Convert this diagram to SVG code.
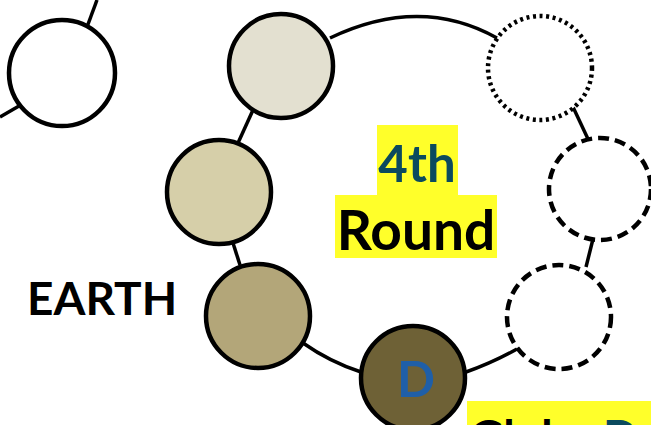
<svg xmlns="http://www.w3.org/2000/svg" width="651" height="425" viewBox="0 0 651 425">
<style>
.n{stroke:#000;stroke-width:4.5}
.dot{fill:#fff;stroke:#000;stroke-width:4.5;stroke-dasharray:3 3.6}
.dash{fill:#fff;stroke:#000;stroke-width:4.5;stroke-dasharray:11 6}
.c{fill:none;stroke:#000;stroke-width:3.5}
.t{font-family:Lato,"Liberation Sans",sans-serif;font-weight:700}
</style>
<rect width="651" height="425" fill="#fff"/>
<g id="connectors">
<line class="c" x1="97" y1="0" x2="87" y2="27"/>
<line class="c" x1="19" y1="106" x2="0" y2="117"/>
<path class="c" d="M330 38 Q420 -5 497 38"/>
<line class="c" x1="253" y1="110" x2="238" y2="143"/>
<line class="c" x1="233" y1="243" x2="240" y2="265"/>
<path class="c" d="M303 343 Q330 362 361 372"/>
<path class="c" d="M466 372 Q492 363 517 349"/>
<line class="c" x1="573" y1="107" x2="588" y2="139"/>
<line class="c" x1="593" y1="239" x2="586" y2="267"/>
</g>
<g id="node-earth-prev"><circle class="n" cx="62" cy="73" r="53" fill="#fff"/></g>
<g id="node-a"><circle class="n" cx="281" cy="66" r="52" fill="#e3e0d0"/></g>
<g id="node-b"><circle class="n" cx="219" cy="192" r="52" fill="#d6cfa9"/></g>
<g id="node-c"><circle class="n" cx="258" cy="316" r="52" fill="#b3a679"/></g>
<g id="node-d"><circle class="n" cx="413" cy="378" r="52" fill="#6e6136"/>
<text class="t" x="416" y="397" font-size="50" fill="#1f5fa8" text-anchor="middle">D</text></g>
<g id="node-e"><circle class="dash" cx="559" cy="317" r="52"/></g>
<g id="node-f"><circle class="dash" cx="600" cy="189" r="51"/></g>
<g id="node-g"><circle class="dot" cx="540" cy="68" r="52"/></g>
<g id="label-round">
<rect x="377" y="125" width="81" height="72" fill="#ffff2a"/>
<rect x="335" y="195" width="162" height="63" fill="#ffff2a"/>
<text class="t" x="417" y="182" font-size="51" fill="#0b4a5e" text-anchor="middle">4th</text>
<text class="t" x="416" y="250" font-size="55" fill="#000" text-anchor="middle">Round</text>
</g>
<g id="label-earth"><text class="t" x="27" y="315" font-size="46" fill="#000">EARTH</text></g>
<g id="label-globe">
<rect x="467" y="401" width="184" height="24" fill="#ffff2a"/>
<text class="t" x="470" y="453" font-size="46" fill="#000">Globe <tspan fill="#0b4a5e">D</tspan></text>
</g>
</svg>
